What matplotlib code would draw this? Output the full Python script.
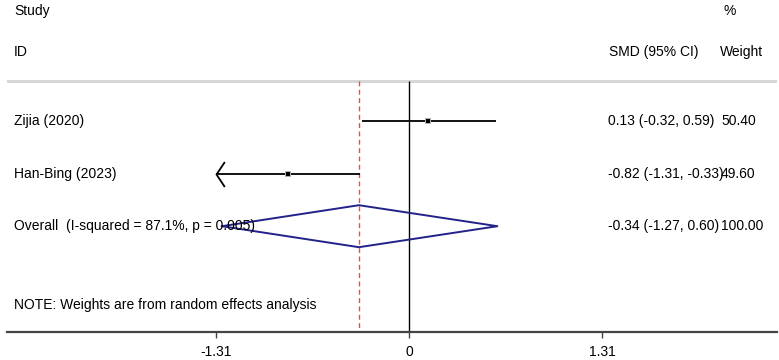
import matplotlib
matplotlib.use("Agg")
import matplotlib.pyplot as plt
from matplotlib.path import Path
from matplotlib.transforms import blended_transform_factory
import numpy as np

plt.rcParams['font.family'] = ['Liberation Sans', 'DejaVu Sans']

studies = ["Zijia (2020)", "Han-Bing (2023)"]
smd = [0.13, -0.82]
lo = [-0.32, -1.31]
hi = [0.59, -0.33]
weights = ["50.40", "49.60"]
es_text = ["0.13 (-0.32, 0.59)", "-0.82 (-1.31, -0.33)"]
overall_label = "Overall  (I-squared = 87.1%, p = 0.005)"
overall_es, overall_lo, overall_hi = -0.34, -1.27, 0.60
overall_text = "-0.34 (-1.27, 0.60)"
overall_weight = "100.00"
xticks = [-1.31, 0, 1.31]
xticklabels = ["-1.31", "0", "1.31"]
clip_left = -1.31  # display limit on left (arrow)

W, H = 779, 360
fig = plt.figure(figsize=(W / 100, H / 100), dpi=100)
ax = fig.add_axes([7 / W, 28 / H, 770 / W, 332 / H])

ppu = 147.33
ax.set_xlim((7 - 409) / ppu, (777 - 409) / ppu)
row_px = 52.6
def r(p):
    return 1 + (p - 121) / row_px
ax.set_ylim(r(332), r(0))

for s in ['top', 'left', 'right']:
    ax.spines[s].set_visible(False)
ax.spines['bottom'].set_color('#444444')
ax.spines['bottom'].set_linewidth(1.6)
ax.set_yticks([])
ax.set_xticks(xticks)
ax.set_xticklabels(xticklabels, fontsize=10)
ax.tick_params(axis='x', direction='out', length=4, width=1, color='#444444', pad=5)

# header line
ax.axhline(r(81), color='#d4d4d4', lw=2)

# reference lines
ax.vlines(0, r(81), r(332), color='black', lw=1)
ax.vlines(overall_es, r(81), r(332), color='#bf5f5f', lw=1, linestyles=(0, (3.5, 2.5)))

rows = np.arange(1, len(studies) + 1)
for i, y in enumerate(rows):
    left = max(lo[i], clip_left)
    ax.plot([left, hi[i]], [y, y], color='black', lw=1.3, solid_capstyle='butt')
    if lo[i] <= clip_left:
        arrow = Path([(1, 1.5), (0, 0), (1, -1.5)], [Path.MOVETO, Path.LINETO, Path.LINETO])
        ax.plot([clip_left], [y], marker=arrow, markersize=18, markerfacecolor='none',
                markeredgecolor='black', markeredgewidth=1.3)
    ax.plot([smd[i]], [y], marker='s', markersize=5, color='#b0b0b0', markeredgewidth=0)
    ax.plot([smd[i]], [y], marker='s', markersize=2.4, color='black', markeredgewidth=0)

# overall diamond
yo = len(studies) + 1
hh = 21 / row_px
ax.plot([overall_lo, overall_es, overall_hi, overall_es, overall_lo],
        [yo, yo - hh, yo, yo + hh, yo], color='#22228a', lw=1.4)

tr = blended_transform_factory(ax.transAxes, ax.transData)
def fx(p):
    return (p - 7) / 770

fs = 10
ax.text(fx(14), r(11), "Study", transform=tr, fontsize=fs, va='center', ha='left')
ax.text(fx(14), r(52), "ID", transform=tr, fontsize=fs, va='center', ha='left')
ax.text(fx(723), r(11), "%", transform=tr, fontsize=fs, va='center', ha='left')
ax.text(fx(609), r(52), "SMD (95% CI)", transform=tr, fontsize=fs, va='center', ha='left')
ax.text(fx(720), r(52), "Weight", transform=tr, fontsize=fs, va='center', ha='left')

for i, y in enumerate(rows):
    ax.text(fx(14), y, studies[i], transform=tr, fontsize=fs, va='center', ha='left')
    ax.text(fx(608), y, es_text[i], transform=tr, fontsize=fs, va='center', ha='left')
    ax.text(fx(721), y, weights[i], transform=tr, fontsize=fs, va='center', ha='left')

ax.text(fx(14), yo, overall_label, transform=tr, fontsize=fs, va='center', ha='left')
ax.text(fx(608), yo, overall_text, transform=tr, fontsize=fs, va='center', ha='left')
ax.text(fx(721), yo, overall_weight, transform=tr, fontsize=fs, va='center', ha='left')

ax.text(fx(14), r(305), "NOTE: Weights are from random effects analysis", transform=tr,
        fontsize=fs, va='center', ha='left')

fig.savefig("out.png", dpi=100, facecolor='white')
